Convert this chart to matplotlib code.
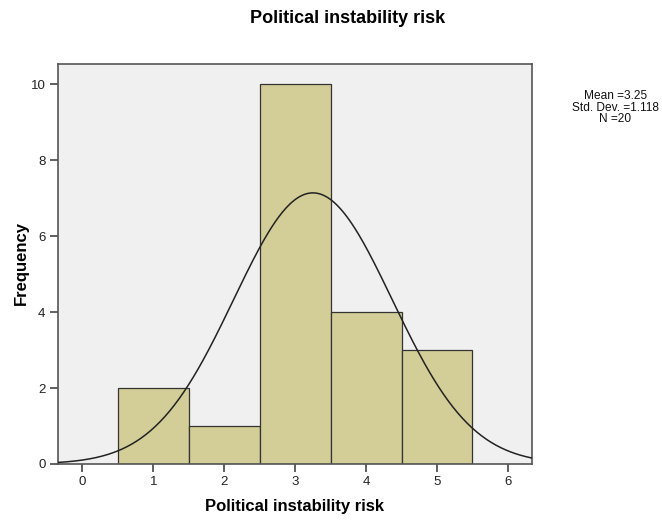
import numpy as np
import matplotlib
matplotlib.use("Agg")
import matplotlib.pyplot as plt

plt.rcParams['font.family'] = ['Liberation Sans', 'DejaVu Sans']

bin_centers = [1, 2, 3, 4, 5]
frequencies = [2, 1, 10, 4, 3]
mean_val = 3.25
std_val = 1.118
n_val = 20
x_ticks = [0, 1, 2, 3, 4, 5, 6]
y_ticks = [0, 2, 4, 6, 8, 10]

fig = plt.figure(figsize=(6.62, 5.2), dpi=100)
ax = fig.add_axes([0.0876, 0.1077, 0.7160, 0.7693])
ax.set_facecolor('#F0F0F0')

ax.bar(bin_centers, frequencies, width=1.0, color='#D3CE97', edgecolor='#333333', linewidth=0.9, zorder=2)

xs = np.linspace(-0.35, 6.35, 400)
ys = n_val * 1.0 * np.exp(-0.5 * ((xs - mean_val) / std_val) ** 2) / (std_val * np.sqrt(2 * np.pi))
ax.plot(xs, ys, color='#222222', linewidth=1.1, zorder=3)

ax.set_xlim(-0.345, 6.34)
ax.set_ylim(0, 10.53)
ax.set_xticks(x_ticks)
ax.set_yticks(y_ticks)
ax.tick_params(axis='both', direction='out', length=6, width=1.2, color='#444444', labelsize=9.5, labelcolor='#222222', pad=3)
for s in ax.spines.values():
    s.set_color('#555555')
    s.set_linewidth(1.2)

fig.text(0.4456, 0.025, 'Political instability risk', ha='center', va='center', fontsize=12, fontweight='bold')
fig.text(0.0317, 0.494, 'Frequency', ha='center', va='center', rotation=90, fontsize=12, fontweight='bold')
fig.text(0.5257, 0.965, 'Political instability risk', ha='center', va='center', fontsize=13, fontweight='bold')

fig.text(0.9295, 0.826, 'Mean =%.2f\nStd. Dev. =%.3f\nN =%d' % (mean_val, std_val, n_val),
         ha='center', va='top', fontsize=8.6, linespacing=0.9, color='#111111')

fig.savefig('out.png', dpi=100)
